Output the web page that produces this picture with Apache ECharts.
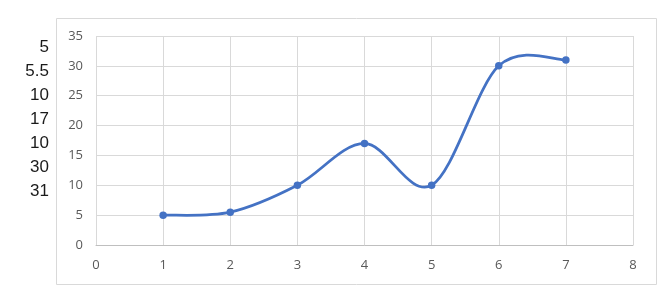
<!DOCTYPE html>
<html><head><meta charset="utf-8">
<script src="https://cdn.jsdelivr.net/npm/echarts@6/dist/echarts.min.js"></script>
<style>html,body{margin:0;padding:0;background:#fff;}#c{width:669px;height:302px;}</style>
</head><body><div id="c"></div>
<script>
const xValues = [1, 2, 3, 4, 5, 6, 7];
const yValues = [5, 5.5, 10, 17, 10, 30, 31];
const sideLabels = ['5', '5.5', '10', '17', '10', '30', '31'];

const chart = echarts.init(document.getElementById('c'), null, {renderer: 'canvas'});
const axisLabel = {color: '#595959', fontSize: 13, fontFamily: 'Open Sans, DejaVu Sans, sans-serif'};
const graphics = [{
  type: 'rect', shape: {x: 56.5, y: 18.5, width: 600, height: 266},
  style: {fill: 'none', stroke: '#d9d9d9', lineWidth: 1}, silent: true
}];
sideLabels.forEach((t, i) => {
  graphics.push({
    type: 'text', right: 669 - 49, top: 38.5 + i * 24,
    style: {text: t, fill: '#1a1a1a', font: '17px "Liberation Sans", sans-serif', textAlign: 'right'}
  });
});
const points = xValues.map((x, i) => [x, yValues[i]]);

// Excel-style smoothed line: Catmull-Rom spline converted to cubic Bezier, in pixel space via the axes
function renderSmooth(params, api) {
  if (params.dataIndex !== 0) return null;
  const p = points.map(d => api.coord(d));
  const n = p.length;
  let d = 'M' + p[0][0] + ' ' + p[0][1];
  for (let i = 0; i < n - 1; i++) {
    const p0 = p[Math.max(i - 1, 0)], p1 = p[i], p2 = p[i + 1], p3 = p[Math.min(i + 2, n - 1)];
    const c1 = [p1[0] + (p2[0] - p0[0]) / 6, p1[1] + (p2[1] - p0[1]) / 6];
    const c2 = [p2[0] - (p3[0] - p1[0]) / 6, p2[1] - (p3[1] - p1[1]) / 6];
    d += ' C' + c1[0] + ' ' + c1[1] + ' ' + c2[0] + ' ' + c2[1] + ' ' + p2[0] + ' ' + p2[1];
  }
  return {
    type: 'path', shape: {pathData: d},
    style: {fill: 'none', stroke: '#4472c4', lineWidth: 2.75, lineCap: 'round', lineJoin: 'round'}
  };
}

chart.setOption({
  animation: false,
  grid: {left: 96, top: 36, right: 36, bottom: 57, containLabel: false},
  xAxis: {
    type: 'value', min: 0, max: 8, interval: 1,
    axisLine: {show: true, lineStyle: {color: '#bfbfbf', width: 1}},
    axisTick: {show: false},
    splitLine: {show: true, lineStyle: {color: '#d9d9d9'}},
    axisLabel: Object.assign({margin: 14}, axisLabel)
  },
  yAxis: {
    type: 'value', min: 0, max: 35, interval: 5,
    axisLine: {show: false}, axisTick: {show: false},
    splitLine: {show: true, lineStyle: {color: '#d9d9d9'}},
    axisLabel: Object.assign({margin: 13}, axisLabel)
  },
  graphic: graphics,
  series: [{
    type: 'custom', data: points, renderItem: renderSmooth, clip: false, z: 2
  }, {
    type: 'scatter', data: points, symbol: 'circle', symbolSize: 7.5,
    itemStyle: {color: '#4472c4', opacity: 1}, z: 3
  }]
});
</script></body></html>
